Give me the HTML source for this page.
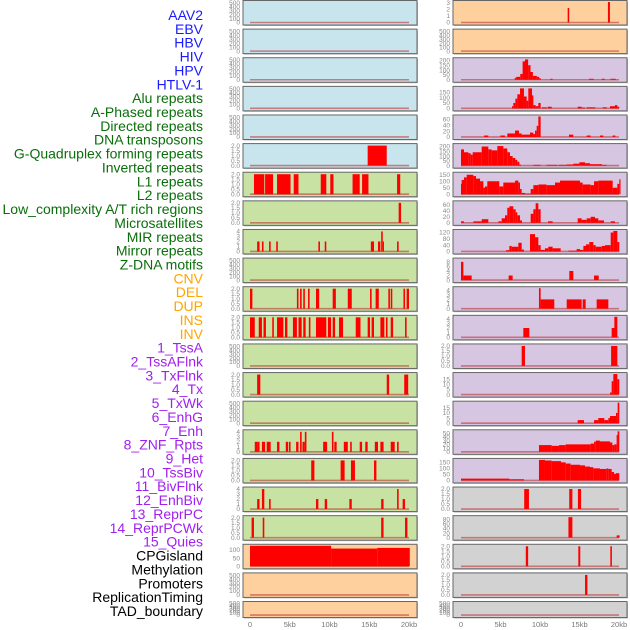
<!DOCTYPE html>
<html><head><meta charset="utf-8"><style>
html,body{margin:0;padding:0;background:#fff;width:630px;height:630px;overflow:hidden}
svg{display:block;font-family:"Liberation Sans",sans-serif}
</style></head><body>
<svg id="chart" width="630" height="630" viewBox="0 0 630 630" xmlns="http://www.w3.org/2000/svg"></svg>
<script>
// ---- data ----
const labelNames = ["AAV2","EBV","HBV","HIV","HPV","HTLV-1","Alu repeats","A-Phased repeats","Directed repeats","DNA transposons","G-Quadruplex forming repeats","Inverted repeats","L1 repeats","L2 repeats","Low_complexity A/T rich regions","Microsatellites","MIR repeats","Mirror repeats","Z-DNA motifs","CNV","DEL","DUP","INS","INV","1_TssA","2_TssAFlnk","3_TxFlnk","4_Tx","5_TxWk","6_EnhG","7_Enh","8_ZNF_Rpts","9_Het","10_TssBiv","11_BivFlnk","12_EnhBiv","13_ReprPC","14_ReprPCWk","15_Quies","CPGisland","Methylation","Promoters","ReplicationTiming","TAD_boundary"];
const labelGroups = [6,13,5,15,5];
const groupColors = ["#1a1aff","#0a6e0a","#ffa500","#a020f0","#000000"];
const xTicks = [0,5,10,15,20];
const xTickLabels = ["0","5kb","10kb","15kb","20kb"];
const emptyTicks = [0,100,200,300,400,500];
const t2 = [0,0.5,1,1.5,2];
const t4 = [0,1,2,3,4];

const midTicks = [emptyTicks,emptyTicks,emptyTicks,emptyTicks,emptyTicks,t2,t2,t2,t4,emptyTicks,t2,t2,emptyTicks,t2,emptyTicks,t4,t2,t4,t2,[0,50,100],emptyTicks,emptyTicks];
const midMax = [520,520,520,520,520,2.05,2.05,2.05,4.1,520,2.05,2.05,520,2.05,520,4.1,2.05,4.1,2.05,125,520,520];
const midBars = [[],[],[],[],[],
 [[14.8,17.2,2]],
 [[0.5,1.8,2],[1.9,2.9,2],[3.4,5.1,2],[5.5,6.1,2],[8.9,9.6,2],[10.1,10.5,2],[12.9,13.8,2],[14.1,14.9,2],[18.5,18.9,2]],
 [[18.7,19.0,2]],
 [[0.9,1.2,2],[1.5,1.7,2],[2.4,2.6,2],[3.3,3.5,2],[8.6,8.8,2],[9.4,9.6,2],[15.2,15.6,2],[16.1,16.4,2],[16.5,16.7,4],[16.7,16.8,2],[18.5,18.7,2]],
 [],
 [[0,0.3,2],[5.9,6.1,2],[6.3,6.5,2],[6.7,6.9,2],[7.3,7.5,2],[8.3,8.7,2],[10.4,10.8,2],[12.3,12.8,2],[15.1,15.3,2],[15.8,16.2,2],[17.4,17.6,2],[17.7,17.9,2],[19.3,19.5,2],[19.7,20.0,2]],
 [[0,0.6,2],[1.1,1.5,2],[1.7,2.0,2],[2.8,3.0,2],[3.4,4.2,2],[4.4,4.7,2],[5.4,5.9,2],[6.1,6.5,2],[6.7,7.0,2],[7.4,7.6,2],[8.3,9.6,2],[9.8,10.2,2],[10.4,10.7,2],[11.2,11.7,2],[13.3,13.9,2],[14.8,15.1,2],[15.3,15.6,2],[16.4,16.9,2],[17.1,17.3,2],[17.7,18.0,2],[19.5,19.7,2]],
 [],
 [[0.9,1.3,2],[17.2,17.5,2],[19.4,19.9,2]],
 [],
 [[0.6,0.9,2],[0.9,1.2,2],[1.5,1.9,2],[2.1,2.6,2],[3.4,3.7,2],[4.5,4.8,2],[4.9,5.1,2],[5.8,6.1,2],[6.3,6.5,4],[6.6,6.9,2],[6.9,7.1,4],[9.2,9.7,2],[10.3,10.5,4],[10.6,10.9,2],[11.8,12.3,2],[12.6,12.8,2],[13.8,14.1,2],[14.5,14.8,2],[15.7,16.1,2],[16.4,16.8,2],[17.7,18.2,2],[18.5,18.7,2]],
 [[7.7,8.1,2],[11.4,11.9,2],[12.7,13.2,2],[15.6,15.9,2]],
 [[0.9,1.2,2],[1.5,1.8,4],[2.4,2.6,2],[8.3,8.6,2],[9.4,9.7,2],[12.5,12.8,2],[16.5,16.8,2],[18.5,18.7,4],[19.2,19.5,2]],
 [[0.2,0.5,2],[1.6,1.8,2],[16.5,16.8,2],[19.5,19.8,2]],
 [[0,10.2,125],[10.2,16.0,108],[16.0,20.1,112]],
 [],[]];

const rightTicks = [[0,1,2,3],emptyTicks,[0,50,100,150,200],[0,50,100,150],[0,20,40,60],[0,50,100,150,200],[0,50,100,150],[0,20,40,60],[0,40,80,120],[0,2,4,6,8],t4,t4,t2,[0,5,10,15],[0,5,10,15],[0,10,20,30,40,50],[0,50,100,150],t2,[0,20,40,60,80],t2,t2,emptyTicks];
const rightMax = [3.1,520,212,190,70,215,158,68,130,9,4.4,4.4,2.05,20,20,55,170,2.05,90,2.05,2.05,520];
const rightBars = [
 [[13.5,13.7,2.2],[18.6,18.85,3.1]],
 [],
 [[6.8,7.0,20],[7.0,7.5,30],[7.5,7.8,60],[7.8,8.1,190],[8.1,8.5,210],[8.5,8.8,150],[8.8,9.1,80],[9.1,9.6,40],[9.6,9.9,30],[9.9,10.1,15],[11.3,11.6,10],[16.2,16.8,10],[17.8,18.2,10],[18.9,19.6,10]],
 [[6.46,6.62,20],[6.62,6.88,50],[6.88,7.13,90],[7.13,7.47,130],[7.47,7.97,185],[7.97,8.31,110],[8.31,8.52,70],[8.52,8.99,185],[8.99,9.16,120],[9.16,9.45,30],[9.45,9.79,20],[9.79,10.08,50],[10.25,10.84,10],[10.97,11.48,15],[14.77,15.27,15],[15.27,15.7,8],[15.91,17.0,10],[17.93,18.44,10],[18.86,19.49,20],[19.49,19.79,30],[19.79,20.04,15]],
 [[2.91,3.46,5],[4.98,5.57,5],[5.86,6.84,12],[6.84,7.34,22],[7.34,7.68,12],[7.68,8.73,8],[8.73,9.16,15],[9.16,9.37,10],[9.37,9.58,22],[9.58,9.79,38],[9.79,10.08,70],[13.67,14.22,8],[15.91,16.41,5],[17.59,18.02,5],[19.2,19.54,5]],
 [[0,0.38,170],[0.38,0.93,140],[0.93,1.22,130],[1.22,1.48,115],[1.48,2.62,140],[2.62,3.46,200],[3.46,3.88,170],[3.88,4.6,160],[4.6,5.36,205],[5.36,5.86,180],[5.86,6.2,140],[6.2,6.54,100],[6.54,6.88,80],[6.88,7.13,60],[7.13,7.39,40],[7.39,7.59,10],[9.16,10.08,8],[10.84,12.19,8],[12.36,13.38,8],[13.38,14.22,12],[14.22,14.98,20],[14.98,15.7,35],[15.7,16.33,25],[16.33,17.85,15],[17.85,18.44,8]],
 [[0,0.08,80],[0.08,0.38,110],[0.38,0.72,130],[0.72,1.56,150],[1.56,1.9,140],[1.9,2.41,120],[2.41,2.83,100],[2.83,3.04,50],[3.04,3.33,60],[3.33,4.85,100],[4.85,5.36,60],[5.36,6.84,90],[6.84,7.26,105],[7.26,7.47,90],[7.47,7.68,40],[7.68,8.1,10],[8.1,8.82,5],[8.82,9.16,40],[9.16,9.79,70],[9.79,10.84,75],[10.84,11.9,70],[11.9,12.53,90],[12.53,15.06,105],[15.06,15.4,90],[15.4,16.41,75],[16.41,16.84,70],[16.84,17.38,100],[17.38,19.2,105],[19.2,19.79,50],[19.79,20.04,80],[20.04,20.13,115]],
 [[0,0.38,5],[1.56,2.62,5],[2.62,3.46,12],[4.73,5.15,5],[5.15,5.57,15],[5.57,5.86,25],[5.86,6.12,50],[6.12,6.62,55],[6.62,6.92,45],[6.92,7.13,35],[7.13,7.47,25],[7.47,7.72,8],[8.82,9.16,30],[9.16,9.45,45],[9.45,9.79,65],[9.79,10.08,45],[11.01,11.6,5],[14.77,15.27,15],[15.27,15.91,10],[15.91,16.41,15],[16.41,16.96,20],[16.96,17.38,15],[17.38,18.1,8],[18.95,19.49,5]],
 [[5.7,6.12,8],[6.12,6.41,35],[6.41,7.26,30],[7.26,7.68,55],[7.68,7.97,12],[8.73,9.37,110],[9.37,9.79,90],[9.79,10.08,40],[10.08,10.63,10],[10.63,11.05,20],[11.05,11.6,30],[11.6,12.62,20],[13.59,14.64,5],[14.64,15.06,15],[15.06,15.49,10],[15.49,15.82,35],[15.82,16.24,45],[16.24,16.75,60],[16.75,17.05,40],[17.05,17.81,30],[17.81,18.23,35],[18.23,18.95,40],[18.95,19.28,120],[19.28,19.79,130],[19.79,20.04,60]],
 [[0,0.3,8],[0.3,1.35,2],[6.03,6.54,2],[13.71,14.22,4],[16.84,17.43,2]],
 [[9.87,10.08,4.4],[10.08,11.81,2],[13.38,15.27,2],[15.4,15.78,2],[17.17,18.65,2]],
 [[7.89,8.65,2],[19.07,19.49,2],[19.41,19.79,4.4]],
 [[7.68,8.1,2],[19.0,19.79,2]],
 [[18.86,19.07,2],[19.07,19.28,13],[19.28,19.79,20],[19.79,20.04,15]],
 [[14.77,15.57,3],[16.84,17.38,3],[17.38,18.14,5],[18.14,18.65,3],[18.65,18.86,5],[18.86,19.62,7],[19.62,19.83,10],[19.83,20.04,20]],
 [[9.87,11.48,18],[11.48,12.41,16],[12.41,13.25,18],[13.25,16.41,20],[16.41,16.84,22],[16.84,17.05,27],[17.05,17.59,30],[17.59,18.86,28],[18.86,19.16,25],[19.16,19.41,18],[19.41,19.7,20],[19.7,19.83,45],[19.83,20.04,55]],
 [[0,6.12,15],[6.12,7.97,10],[9.87,10.63,170],[10.63,11.48,165],[11.48,12.66,160],[12.66,13.25,150],[13.25,13.88,140],[13.88,15.06,130],[15.06,15.7,125],[15.7,16.33,115],[16.33,16.75,110],[16.75,17.59,100],[17.59,18.44,95],[18.44,18.65,100],[18.65,19.07,95],[19.07,19.37,70],[19.37,19.62,55],[19.62,20.04,60]],
 [[8.0,8.6,2],[13.7,14.1,2],[14.8,15.2,2]],
 [[13.6,14.1,90],[19.7,20.08,10]],
 [[8.2,8.5,2],[14.85,15.1,2],[18.9,19.1,2]],
 [[15.7,16.0,2]],
 []];

// ---- layout ----
const NS = "http://www.w3.org/2000/svg";
const svg = document.getElementById("chart");
function mk(tag, attrs, parent){const e=document.createElementNS(NS,tag);for(const k in attrs)e.setAttribute(k,attrs[k]);(parent||svg).appendChild(e);return e;}
const nRows = 22;
function rowTop(r){return 0.5 + r*28.62;}
function rowH(r){return r===21?16:24.5;}
const cols = [
 {left:243,right:417,x0:250,pxPerKb:7.95,ticks:midTicks,max:midMax,bars:midBars,name:"middle"},
 {left:453,right:627,x0:461,pxPerKb:7.9,ticks:rightTicks,max:rightMax,bars:rightBars,name:"right"}
];
function bgMid(r){return r<6?"#c8e4ec":(r<19?"#c8e2a4":"#fed09e");}
function bgRight(r){return r<2?"#fed09e":(r<17?"#d7c6e2":"#d2d2d2");}
function xScale(c,kb){return c.x0+kb*c.pxPerKb;}
function yScale(r,v,max){const t=rowTop(r),h=rowH(r);const y0=t+h-2.5,y1=t+1.5;return y0-(v/max)*(y0-y1);}

cols.forEach((c,ci)=>{
 for(let r=0;r<nRows;r++){
  const g=mk("g",{});
  
  
  const t=rowTop(r),h=rowH(r);
  mk("rect",{x:c.left+1,y:t+1,width:c.right-c.left,height:h,fill:"#bbb"},g);
  mk("rect",{x:c.left,y:t,width:c.right-c.left,height:h,fill:ci===0?bgMid(r):bgRight(r),stroke:"#666","stroke-width":1},g);
  const max=c.max[r];
  // baseline
  mk("line",{x1:xScale(c,0),x2:xScale(c,20),y1:yScale(r,0,max),y2:yScale(r,0,max),stroke:"rgba(190,40,40,0.55)","stroke-width":1.6},g);
  // bars
  c.bars[r].forEach(b=>{
   const v=Math.min(b[2],max);
   const x1=xScale(c,b[0]),x2=xScale(c,b[1]);
   const y=yScale(r,v,max),y0=yScale(r,0,max);
   const bar=mk("rect",{x:x1,y:y,width:Math.max(1.2,x2-x1),height:y0-y,fill:"#ff0000"},g);
   
   
  });
  // y ticks
  c.ticks[r].forEach(tv=>{
   const tx=mk("text",{x:c.left-3,y:yScale(r,tv,max)+2.2,"font-size":6.5,fill:"#888","text-anchor":"end"},g);
   tx.textContent = (c.ticks[r]===t2)? tv.toFixed(1) : String(tv);
   
   
  });
 }
 // x ticks
 xTicks.forEach((kb,i)=>{
  const tx=mk("text",{x:xScale(c,kb),y:627,"font-size":7.5,fill:"#777","text-anchor":"middle"});
  tx.textContent=xTickLabels[i];
  
  
 });
});

// labels
let idx=0;
labelGroups.forEach((n,gi)=>{
 for(let k=0;k<n;k++){
  const tx=mk("text",{x:203,y:20+idx*13.86,"font-size":14,fill:groupColors[gi],"text-anchor":"end"});
  tx.textContent=labelNames[idx];
  
  
  idx++;
 }
});
</script>
</body></html>
